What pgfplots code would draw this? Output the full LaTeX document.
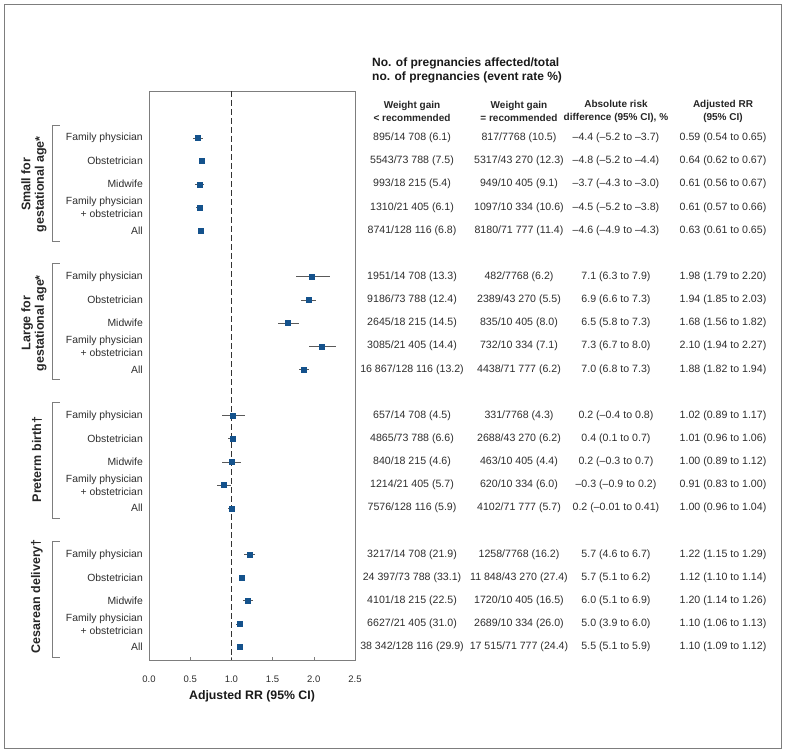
\documentclass[border=0pt]{standalone}
\usepackage{pgfplots}
\pgfplotsset{compat=1.18}
\usepackage{pgfplotstable}
\usepackage{fontspec}
\setmainfont{Liberation Sans}
\definecolor{mk}{RGB}{20,82,140}
\definecolor{txt}{RGB}{45,45,45}
\definecolor{ax}{RGB}{125,125,125}

\pgfplotstableread{
row rr lo hi
1 0.59 0.54 0.65
2 0.64 0.62 0.67
3 0.61 0.56 0.67
4 0.61 0.57 0.66
5 0.63 0.61 0.65
7 1.98 1.79 2.20
8 1.94 1.85 2.03
9 1.68 1.56 1.82
10 2.10 1.94 2.27
11 1.88 1.82 1.94
13 1.02 0.89 1.17
14 1.01 0.96 1.06
15 1.00 0.89 1.12
16 0.91 0.83 1.00
17 1.00 0.96 1.04
19 1.22 1.15 1.29
20 1.12 1.10 1.14
21 1.20 1.14 1.26
22 1.10 1.06 1.13
23 1.10 1.09 1.12
}\rrdata

\tikzset{
  tcell/.style={font=\fontsize{10.6}{12.5}\selectfont, text=txt, anchor=center, inner sep=0pt},
  rlab/.style={font=\fontsize{10.4}{13}\selectfont, text=txt, anchor=east, align=right, inner sep=0pt, xshift=-6pt},
  glab/.style={font=\fontsize{12.5}{13.5}\selectfont\bfseries, text=black!85, rotate=90, align=center, inner sep=0pt},
  hcell/.style={font=\fontsize{10}{13}\selectfont\bfseries, text=black!85, align=center, inner sep=0pt},
}
\newcommand{\trow}[5]{%
  \node[tcell] at (axis cs:3.192,#1) {#2};
  \node[tcell] at (axis cs:4.490,#1) {#3};
  \node[tcell] at (axis cs:5.667,#1) {#4};
  \node[tcell] at (axis cs:6.966,#1) {#5};}
\newcommand{\rlabels}[1]{%
  \node[rlab] at (axis cs:0,#1) {Family physician};
  \node[rlab] at (axis cs:0,#1+1) {Obstetrician};
  \node[rlab] at (axis cs:0,#1+2) {Midwife};
  \node[rlab] at (axis cs:0,#1+3) {Family physician\\+ obstetrician};
  \node[rlab] at (axis cs:0,#1+4) {All};
  \draw[ax, line width=0.8pt] ([xshift=-89pt]axis cs:0,#1-0.56) -- ([xshift=-97pt]axis cs:0,#1-0.56) -- ([xshift=-97pt]axis cs:0,#1+4.45) -- ([xshift=-89pt]axis cs:0,#1+4.45);}

\begin{document}
\begin{tikzpicture}
\useasboundingbox (0pt,0pt) rectangle (786pt,754pt);
\draw[ax, line width=0.9pt] (4pt,6pt) rectangle (781pt,750pt);
\begin{axis}[
  at={(149pt,94pt)}, anchor=south west,
  scale only axis, width=206pt, height=569pt,
  xmin=0, xmax=2.5, ymin=-1.03, ymax=23.56, y dir=reverse,
  clip=false,
  axis line style={ax, line width=0.8pt},
  xtick={0,0.5,1,1.5,2,2.5}, ytick=\empty,
  xtick pos=bottom, tick align=inside, major tick length=3pt,
  tick style={ax, line width=0.6pt},
  xticklabel style={font=\fontsize{9.5}{11}\selectfont, text=txt, yshift=-12pt,
    /pgf/number format/.cd, fixed, fixed zerofill, precision=1, assume math mode=true},
]
\draw[black!80, line width=0.7pt, dash pattern=on 6pt off 3pt] (axis cs:1,-1.03) -- (axis cs:1,23.56);
\addplot[only marks, mark=square*, mark size=2.5pt, color=mk,
  error bars/.cd, x dir=both, x explicit, error mark=none,
  error bar style={color=black!65, line width=0.8pt}]
  table[x=rr, y=row, x error plus expr=\thisrow{hi}-\thisrow{rr}, x error minus expr=\thisrow{rr}-\thisrow{lo}] {\rrdata};
\addplot[only marks, mark=square*, mark size=2.5pt, color=mk] table[x=rr, y=row] {\rrdata};

\node[font=\fontsize{12.3}{14}\selectfont\bfseries, text=black!90] at (axis cs:1.25,23.56) [yshift=-36pt] {Adjusted RR (95\% CI)};

\rlabels{1}
\rlabels{7}
\rlabels{13}
\rlabels{19}

\node[glab] at ([xshift=-115pt]axis cs:0,3) {Small for\\gestational age*};
\node[glab] at ([xshift=-115pt]axis cs:0,9) {Large for\\gestational age*};
\node[glab] at ([xshift=-112pt]axis cs:0,14.9) {Preterm birth†};
\node[glab] at ([xshift=-112pt]axis cs:0,20.8) {Cesarean delivery†};

\node[font=\fontsize{12}{14}\selectfont\bfseries, text=black!90, anchor=west, align=left, inner sep=0pt] at (axis cs:2.706,-1.94) {No. of pregnancies affected/total\\no. of pregnancies (event rate \%)};
\node[hcell] at (axis cs:3.192,-0.15) {Weight gain\\< recommended};
\node[hcell] at (axis cs:4.490,-0.15) {Weight gain\\= recommended};
\node[hcell] at (axis cs:5.667,-0.15) {Absolute risk\\difference (95\% CI), \%};
\node[hcell] at (axis cs:6.966,-0.15) {Adjusted RR\\(95\% CI)};

\trow{1}{895/14 708 (6.1)}{817/7768 (10.5)}{–4.4 (–5.2 to –3.7)}{0.59 (0.54 to 0.65)}
\trow{2}{5543/73 788 (7.5)}{5317/43 270 (12.3)}{–4.8 (–5.2 to –4.4)}{0.64 (0.62 to 0.67)}
\trow{3}{993/18 215 (5.4)}{949/10 405 (9.1)}{–3.7 (–4.3 to –3.0)}{0.61 (0.56 to 0.67)}
\trow{4}{1310/21 405 (6.1)}{1097/10 334 (10.6)}{–4.5 (–5.2 to –3.8)}{0.61 (0.57 to 0.66)}
\trow{5}{8741/128 116 (6.8)}{8180/71 777 (11.4)}{–4.6 (–4.9 to –4.3)}{0.63 (0.61 to 0.65)}
\trow{7}{1951/14 708 (13.3)}{482/7768 (6.2)}{7.1 (6.3 to 7.9)}{1.98 (1.79 to 2.20)}
\trow{8}{9186/73 788 (12.4)}{2389/43 270 (5.5)}{6.9 (6.6 to 7.3)}{1.94 (1.85 to 2.03)}
\trow{9}{2645/18 215 (14.5)}{835/10 405 (8.0)}{6.5 (5.8 to 7.3)}{1.68 (1.56 to 1.82)}
\trow{10}{3085/21 405 (14.4)}{732/10 334 (7.1)}{7.3 (6.7 to 8.0)}{2.10 (1.94 to 2.27)}
\trow{11}{16 867/128 116 (13.2)}{4438/71 777 (6.2)}{7.0 (6.8 to 7.3)}{1.88 (1.82 to 1.94)}
\trow{13}{657/14 708 (4.5)}{331/7768 (4.3)}{0.2 (–0.4 to 0.8)}{1.02 (0.89 to 1.17)}
\trow{14}{4865/73 788 (6.6)}{2688/43 270 (6.2)}{0.4 (0.1 to 0.7)}{1.01 (0.96 to 1.06)}
\trow{15}{840/18 215 (4.6)}{463/10 405 (4.4)}{0.2 (–0.3 to 0.7)}{1.00 (0.89 to 1.12)}
\trow{16}{1214/21 405 (5.7)}{620/10 334 (6.0)}{–0.3 (–0.9 to 0.2)}{0.91 (0.83 to 1.00)}
\trow{17}{7576/128 116 (5.9)}{4102/71 777 (5.7)}{0.2 (–0.01 to 0.41)}{1.00 (0.96 to 1.04)}
\trow{19}{3217/14 708 (21.9)}{1258/7768 (16.2)}{5.7 (4.6 to 6.7)}{1.22 (1.15 to 1.29)}
\trow{20}{24 397/73 788 (33.1)}{11 848/43 270 (27.4)}{5.7 (5.1 to 6.2)}{1.12 (1.10 to 1.14)}
\trow{21}{4101/18 215 (22.5)}{1720/10 405 (16.5)}{6.0 (5.1 to 6.9)}{1.20 (1.14 to 1.26)}
\trow{22}{6627/21 405 (31.0)}{2689/10 334 (26.0)}{5.0 (3.9 to 6.0)}{1.10 (1.06 to 1.13)}
\trow{23}{38 342/128 116 (29.9)}{17 515/71 777 (24.4)}{5.5 (5.1 to 5.9)}{1.10 (1.09 to 1.12)}
\end{axis}
\end{tikzpicture}
\end{document}
